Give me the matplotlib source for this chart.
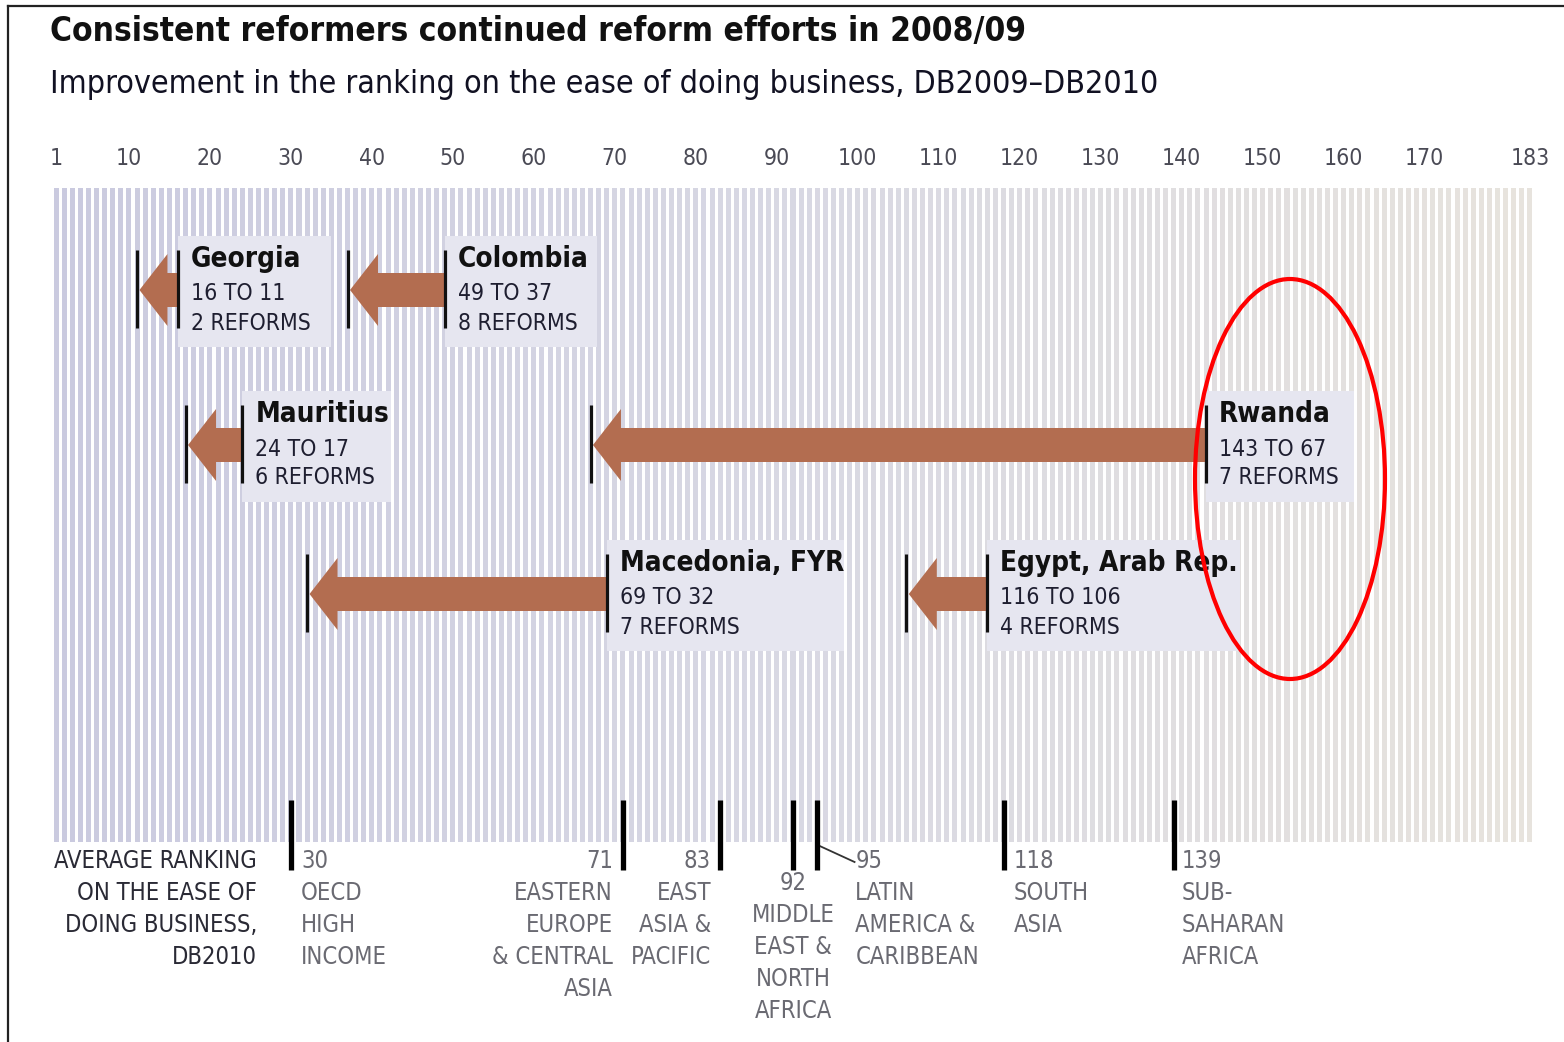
import matplotlib.pyplot as plt
import numpy as np
from matplotlib.colors import LinearSegmentedColormap
from matplotlib.lines import Line2D
from matplotlib.patches import Ellipse, Polygon, Rectangle
from matplotlib.transforms import offset_copy

# Data
countries = ["Georgia", "Colombia", "Mauritius", "Rwanda", "Macedonia, FYR", "Egypt, Arab Rep."]
rank_2009 = [16, 49, 24, 143, 69, 116]
rank_2010 = [11, 37, 17, 67, 32, 106]
n_reforms = [2, 8, 6, 7, 7, 4]

regions = [
    "OECD\nHIGH\nINCOME",
    "EASTERN\nEUROPE\n& CENTRAL\nASIA",
    "EAST\nASIA &\nPACIFIC",
    "MIDDLE\nEAST &\nNORTH\nAFRICA",
    "LATIN\nAMERICA &\nCARIBBEAN",
    "SOUTH\nASIA",
    "SUB-\nSAHARAN\nAFRICA",
]
region_rank = [30, 71, 83, 92, 95, 118, 139]

tick_ranks = [1, 10, 20, 30, 40, 50, 60, 70, 80, 90, 100, 110, 120, 130, 140, 150, 160, 170, 183]
n_economies = 183

# Layout / style
plt.rcParams["font.family"] = ["DejaVu Sans"]
plt.rcParams["font.stretch"] = "condensed"
arrow_color = "#b36d50"
box_color = "#e6e6f0"
px_per_rank = 1482 / n_economies

row_y = [290, 290, 445, 445, 594, 594]
box_w = [153, 152, 149, 148, 237, 253]

# label placement: (ha, dx in px, top y)
region_ha = ["left", "right", "right", "center", "left", "left", "left"]
region_dx = [10, -10, -9, 0, 38, 10, 8]
region_top = [849, 849, 849, 871, 849, 849, 849]

fig = plt.figure(figsize=(15.64, 10.42), dpi=100)
ax = fig.add_axes([52 / 1564, 1 - 842 / 1042, 1482 / 1564, (842 - 188) / 1042])
ax.set_xlim(0.5, n_economies + 0.5)
ax.set_ylim(842, 188)
for s in ax.spines.values():
    s.set_visible(False)
ax.set_yticks([])

# striped background, one stripe per economy
cmap = LinearSegmentedColormap.from_list("bg", ["#cacadf", "#d8d8e3", "#e7e3dd"])
ranks = np.arange(1, n_economies + 1)
ax.bar(ranks, 842 - 188, bottom=188, width=0.62,
       color=cmap((ranks - 1) / (n_economies - 1)), zorder=1)

# top ticks
ax.xaxis.tick_top()
ax.set_xticks(tick_ranks)
ax.set_xticklabels([str(t) for t in tick_ranks])
ax.tick_params(axis="x", length=0, pad=13, labelsize=16.5, labelcolor="#4a4a55")

# arrows + boxes
head_len = 28 / px_per_rank
for name, old, new, n, y, w in zip(countries, rank_2009, rank_2010, n_reforms, row_y, box_w):
    ax.add_patch(Rectangle((old, y - 54), w / px_per_rank, 111,
                           facecolor=box_color, edgecolor="none", zorder=2))
    tip = new + 0.3
    pts = [(old, y - 17), (tip + head_len, y - 17), (tip + head_len, y - 36),
           (tip, y), (tip + head_len, y + 36), (tip + head_len, y + 17), (old, y + 17)]
    ax.add_patch(Polygon(pts, closed=True, facecolor=arrow_color,
                         edgecolor="none", zorder=3))
    ax.vlines([old, new], y - 40, y + 38, color="#111111", lw=2.3, zorder=4)
    tx = old + 13 / px_per_rank
    ax.text(tx, y - 31, name, fontsize=20, fontweight="bold", color="#111111",
            va="center", ha="left", zorder=5)
    ax.text(tx, y + 4, f"{old} TO {new}", fontsize=16.5, color="#1e1e30",
            va="center", ha="left", zorder=5)
    ax.text(tx, y + 33, f"{n} REFORMS", fontsize=16.5, color="#1e1e30",
            va="center", ha="left", zorder=5)

# regional averages at the bottom
ax.vlines(region_rank, 800, 870, color="black", lw=3.8, clip_on=False, zorder=4)
for lab, r, ha, dx, top in zip(regions, region_rank, region_ha, region_dx, region_top):
    tr = offset_copy(ax.transData, fig=fig, x=dx, y=0, units="dots")
    ax.text(r, top, f"{r}\n{lab}", transform=tr, ha=ha, va="top", ma=ha,
            fontsize=17, color="#6a6a72", linespacing=1.42, clip_on=False)
ax.plot([95.3, 99.6], [846, 862], color="#333333", lw=1.3, clip_on=False)

ax.text(0.0, 849, "AVERAGE RANKING\nON THE EASE OF\nDOING BUSINESS,\nDB2010",
        transform=offset_copy(ax.transData, fig=fig, x=257 - 48, y=0, units="dots"),
        ha="right", va="top", ma="right", fontsize=17, color="#2a2a35",
        linespacing=1.42, clip_on=False)

# highlight ellipse around Rwanda
ax.add_patch(Ellipse(((1290 - 52) / px_per_rank + 0.5, 479), 190 / px_per_rank, 400,
                     facecolor="none", edgecolor="#ff0000", lw=3, zorder=6, clip_on=False))

# titles
fig.text(50 / 1564, 1 - 32 / 1042, "Consistent reformers continued reform efforts in 2008/09",
         fontsize=24, fontweight="bold", color="#111111", va="center", ha="left")
fig.text(50 / 1564, 1 - 84 / 1042,
         "Improvement in the ranking on the ease of doing business, DB2009\u2013DB2010",
         fontsize=23, color="#111122", va="center", ha="left")

# frame lines
fig.add_artist(Line2D([8 / 1564, 1], [1 - 6 / 1042] * 2, color="#222222", lw=1.6))
fig.add_artist(Line2D([8 / 1564] * 2, [0, 1 - 6 / 1042], color="#222222", lw=1.6))

fig.savefig("out.png", dpi=100)
